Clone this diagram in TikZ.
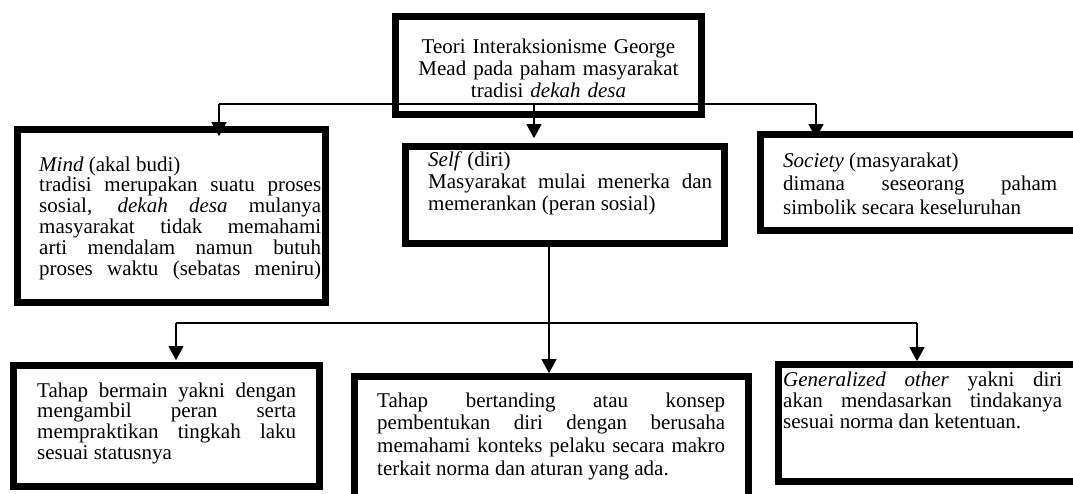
\documentclass[tikz,border=0pt]{standalone}
\usepackage{fontspec}
\setmainfont{Liberation Serif}
\usetikzlibrary{arrows.meta, positioning, calc}

\begin{document}
\begin{tikzpicture}[x=1pt, y=-1pt,
  box/.style={draw, line width=6.7pt, inner sep=0pt},
  txt/.style={anchor=base west, inner sep=0pt, align=justify, font=\fontsize{21}{#1}\selectfont},
  arr/.style={line width=1.2pt, -{Triangle[width=15pt,length=14pt]}},
  link/.style={line width=1.2pt}]
\useasboundingbox (0,0) rectangle (1073,493);

% Top: the theory
\node[box, minimum width=306pt, minimum height=98pt] (teori) at (548.5,65.5) {};
\node[anchor=base, inner sep=0pt, text width=300pt, align=center, font=\fontsize{21}{22}\selectfont] (teoritxt) at (548.5,53)
  {Teori Interaksionisme George\\Mead pada paham masyarakat\\tradisi \textit{dekah desa}\par};

% Level 1: mind, self, society
\node[box, minimum width=308pt, minimum height=173pt] (mind) at (171.5,216) {};
\node[txt=20.8, text width=282pt] (mindtxt) at (39,171)
  {\parfillskip=0pt \textit{Mind} (akal budi)\newline
   tradisi merupakan suatu proses\linebreak sosial, \textit{dekah desa} mulanya\linebreak
   masyarakat tidak memahami\linebreak arti mendalam namun butuh\linebreak
   proses waktu (sebatas meniru)\par};

\node[box, minimum width=319pt, minimum height=97pt] (self) at (565,195) {};
\node[txt=22, text width=284pt] (selftxt) at (428,166)
  {\textit{Self} (diri)\newline
   Masyarakat mulai menerka dan\linebreak memerankan (peran sosial)\par};

\node[box, minimum width=336pt, minimum height=96pt] (society) at (928.5,182.5) {};
\node[txt=23.5, text width=274pt] (societytxt) at (783,167)
  {\textit{Society} (masyarakat)\newline
   dimana seseorang paham\linebreak simbolik secara keseluruhan\par};

% Level 2: stages of self
\node[box, minimum width=306pt, minimum height=121pt] (play) at (166.5,426) {};
\node[txt=20.7, text width=259pt] (playtxt) at (37,397)
  {Tahap bermain yakni dengan\linebreak mengambil peran serta\linebreak
   mempraktikan tingkah laku\linebreak sesuai statusnya\par};

\node[box, minimum width=394pt, minimum height=135pt] (game) at (551.5,444) {};
\node[txt=22.7, text width=348pt] (gametxt) at (377,407)
  {Tahap bertanding atau konsep\linebreak pembentukan diri dengan berusaha\linebreak
   memahami konteks pelaku secara makro\linebreak terkait norma dan aturan yang ada.\par};

\node[box, minimum width=318pt, minimum height=117pt] (general) at (937.5,423) {};
\node[txt=21, text width=279pt] (generaltxt) at (783,386)
  {\textit{Generalized other} yakni diri\linebreak akan mendasarkan tindakanya\linebreak
   sesuai norma dan ketentuan.\par};

% connectors
\coordinate (ja) at (219,104);
\coordinate (jb) at (534,104);
\coordinate (jc) at (816,104);
\draw[link] (ja) -- (jc);
\draw[arr, shorten >=-10pt] (ja) -- (ja |- mind.north);
\draw[arr, shorten >=5pt] (jb) -- (jb |- self.north);
\draw[arr, shorten >=-7pt] (jc) -- (jc |- society.north);

\coordinate (ka) at (176,323);
\coordinate (kc) at (549,323);
\coordinate (kb) at (917,323);
\draw[link] (ka) -- (kb);
\draw[arr] (kc |- self.south) -- (kc |- game.north);
\draw[arr, shorten >=2pt] (ka) -- (ka |- play.north);
\draw[arr] (kb) -- (kb |- general.north);
\end{tikzpicture}
\end{document}
